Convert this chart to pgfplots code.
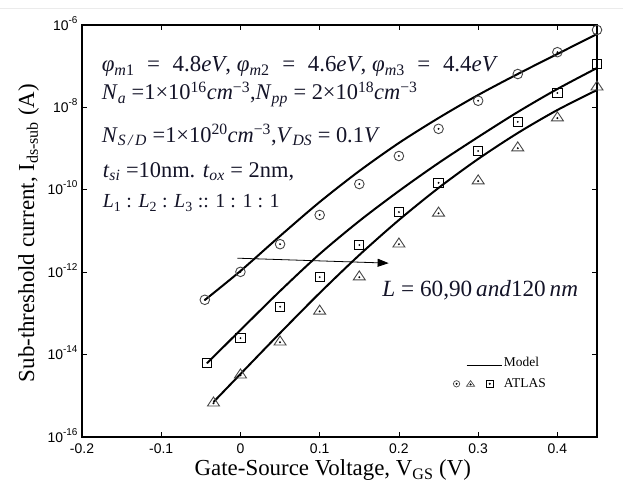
\documentclass[border=0pt]{standalone}
\usepackage{fontspec}
\setmainfont{Liberation Serif}
\setsansfont{Liberation Sans}
\usepackage{pgfplots}
\pgfplotsset{compat=1.18}
\usetikzlibrary{arrows.meta}
\definecolor{txt}{RGB}{20,20,40}
\definecolor{mk}{RGB}{70,70,70}
\newcommand{\eq}{\hspace{0.55em}=\hspace{0.55em}}
\newcommand{\tsup}[1]{\raisebox{0.5em}{\fontsize{10}{10}\selectfont #1}}

\pgfdeclareplotmark{codot}{%
 \pgfpathcircle{\pgfpointorigin}{\pgfplotmarksize}\pgfusepathqstroke
 \pgfpathcircle{\pgfpointorigin}{0.22\pgfplotmarksize}\pgfusepathqfill}
\pgfdeclareplotmark{sdot}{%
 \pgfpathrectangle{\pgfpoint{-\pgfplotmarksize}{-\pgfplotmarksize}}{\pgfpoint{2\pgfplotmarksize}{2\pgfplotmarksize}}\pgfusepathqstroke
 \pgfpathcircle{\pgfpointorigin}{0.22\pgfplotmarksize}\pgfusepathqfill}
\pgfdeclareplotmark{tdot}{%
 \pgfpathmoveto{\pgfpoint{0pt}{\pgfplotmarksize}}%
 \pgfpathlineto{\pgfpoint{1.2\pgfplotmarksize}{-0.8\pgfplotmarksize}}%
 \pgfpathlineto{\pgfpoint{-1.2\pgfplotmarksize}{-0.8\pgfplotmarksize}}%
 \pgfpathclose\pgfusepathqstroke
 \pgfpathcircle{\pgfpoint{0pt}{-0.25\pgfplotmarksize}}{0.22\pgfplotmarksize}\pgfusepathqfill}

\begin{document}
\begin{tikzpicture}
\begin{axis}[
  scale only axis, width=515bp, height=412bp,
  ymode=log, xmin=-0.2, xmax=0.45, ymin=1e-16, ymax=1e-6,
  axis line style={line width=1.2bp},
  major tick style={line width=0.8bp, black},
  major tick length=5bp,
  yminorticks=false,
  xtick={-0.2,-0.1,0,0.1,0.2,0.3,0.4},
  xticklabels={-0.2,-0.1,0,0.1,0.2,0.3,0.4},
  ytick={1e-16,1e-14,1e-12,1e-10,1e-8,1e-6},
  yticklabels={10\tsup{-16},10\tsup{-14},10\tsup{-12},10\tsup{-10},10\tsup{-8},10\tsup{-6}},
  ticklabel style={font=\sffamily\fontsize{14}{14}\selectfont},
  yticklabel style={anchor=base east, yshift=-5bp, xshift=-1bp},
  xticklabel style={yshift=-3bp},
  xlabel={Gate-Source Voltage, V\textsubscript{GS} (V)},
  ylabel={Sub-threshold current, I\textsubscript{ds-sub} (A)},
  xlabel style={font=\fontsize{23}{23}\selectfont, at={(axis description cs:0.487,-0.094)}, anchor=base},
  ylabel style={font=\fontsize{23}{23}\selectfont, at={(axis description cs:-0.093,0.495)}, anchor=base},
  legend style={draw=none, fill=none, inner sep=0pt, font=\fontsize{13.5}{13.5}\selectfont,
    at={(rel axis cs:0.72,0.20)}, anchor=north west, row sep=7bp},
  legend cell align=left,
  clip=false,
]
% model curves
\addplot[black, line width=2bp, smooth, forget plot] coordinates {
(-0.045,2.11e-13) (0,1.07e-12) (0.05,7.57e-12) (0.1,5.06e-11) (0.15,2.86e-10)
(0.2,1.37e-9) (0.25,5.53e-9) (0.3,2.00e-8) (0.35,6.47e-8) (0.4,1.98e-7) (0.45,6.05e-7)};
\addplot[black, line width=2bp, smooth, forget plot] coordinates {
(-0.042,6.25e-15) (0,3.95e-14) (0.05,3.50e-13) (0.1,2.77e-12) (0.15,1.75e-11)
(0.2,9.35e-11) (0.25,4.47e-10) (0.3,1.91e-9) (0.35,7.73e-9) (0.4,2.80e-8) (0.45,9.04e-8)};
\addplot[black, line width=2bp, smooth, forget plot] coordinates {
(-0.034,7.08e-16) (0,3.38e-15) (0.05,3.34e-14) (0.1,3.13e-13) (0.15,2.61e-12)
(0.2,1.85e-11) (0.25,1.11e-10) (0.3,5.60e-10) (0.35,2.39e-9) (0.4,8.65e-9) (0.45,2.64e-8)};
% ATLAS points
\addplot[only marks, mark=codot, mark size=4.8bp, mark options={draw=mk, fill=black, line width=0.9bp}, forget plot] coordinates {
(-0.045,2.14e-13) (0,1.02e-12) (0.05,4.79e-12) (0.1,2.45e-11) (0.15,1.38e-10)
(0.2,6.61e-10) (0.25,3.02e-9) (0.3,1.45e-8) (0.35,6.46e-8) (0.4,2.19e-7) (0.45,7.59e-7)};
\addplot[only marks, mark=sdot, mark size=4.6bp, mark options={draw=black, fill=black, line width=0.9bp}, forget plot] coordinates {
(-0.042,6.31e-15) (0,2.51e-14) (0.05,1.45e-13) (0.1,7.59e-13) (0.15,4.57e-12)
(0.2,2.88e-11) (0.25,1.48e-10) (0.3,8.71e-10) (0.35,4.47e-9) (0.4,2.24e-8) (0.45,1.12e-7)};
\addplot[only marks, mark=tdot, mark size=5bp, mark options={draw=mk, fill=black, line width=0.9bp}, forget plot] coordinates {
(-0.034,7.08e-16) (0,3.39e-15) (0.05,2.14e-14) (0.1,1.20e-13) (0.15,8.13e-13)
(0.2,5.13e-12) (0.25,2.88e-11) (0.3,1.74e-10) (0.35,1.10e-9) (0.4,5.89e-9) (0.45,3.31e-8)};
% legend
\addlegendimage{legend image code/.code={\draw[black, line width=0.9bp] (13bp,-3.5bp) -- (48bp,-3.5bp);}}
\addlegendentry{Model}
\addlegendimage{legend image code/.code={%
  \draw[mk, line width=0.7bp] (3bp,0bp) circle (3.2bp); \fill (3bp,0bp) circle (0.8bp);
  \draw[mk, line width=0.7bp] (17bp,3.2bp) -- (21bp,-2.4bp) -- (13bp,-2.4bp) -- cycle; \fill (17bp,-0.6bp) circle (0.8bp);
  \draw[black, line width=0.7bp] (33bp,-3.2bp) rectangle (39.4bp,3.2bp); \fill (36.2bp,0bp) circle (0.8bp);}}
\addlegendentry{ATLAS}
% annotations
\draw[line width=0.8bp, -{Triangle[length=11bp,width=8bp]}] (axis cs:-0.004,2.19e-12) -- (axis cs:0.187,1.66e-12);
\begin{scope}[every node/.style={anchor=base west, inner sep=0pt, text=txt, font=\fontsize{22.5}{22.5}\selectfont}]
\node[font=\fontsize{23}{23}\selectfont] at (rel axis cs:0.038,0.886) {\textit{φ}\textsubscript{\textit{m}1}\eq4.8\textit{eV}, \textit{φ}\textsubscript{\textit{m}2}\eq4.6\textit{eV}, \textit{φ}\textsubscript{\textit{m}3}\eq4.4\textit{eV}};
\node at (rel axis cs:0.038,0.818) {\textit{N}\textsubscript{\textit{a}} =1×10\textsuperscript{16}\textit{cm}\textsuperscript{−3},\textit{N}\textsubscript{\textit{pp}} = 2×10\textsuperscript{18}\textit{cm}\textsuperscript{−3}};
\node at (rel axis cs:0.038,0.716) {\textit{N}\textsubscript{\textit{S\,/\,D}} =1×10\textsuperscript{20}\textit{cm}\textsuperscript{−3},\textit{V}\textsubscript{\textit{DS}} = 0.1\textit{V}};
\node at (rel axis cs:0.040,0.631) {\textit{t}\textsubscript{\textit{si}} =10nm. \textit{t}\textsubscript{\textit{ox}} = 2nm,};
\node[font=\fontsize{20}{20}\selectfont] at (rel axis cs:0.040,0.556) {\textit{L}\textsubscript{1} : \textit{L}\textsubscript{2} : \textit{L}\textsubscript{3} :: 1 : 1 : 1};
\node[font=\fontsize{23.3}{23.3}\selectfont] at (rel axis cs:0.583,0.340) {\textit{L} = 60,90\,\textit{and}120\,\textit{nm}};
\end{scope}
\end{axis}
\pgfresetboundingbox
\useasboundingbox (-82bp,-48bp) rectangle (557bp,437bp);
\draw[black!8, line width=0.8bp] (-82bp,429bp) -- (541bp,429bp);
\end{tikzpicture}
\end{document}
